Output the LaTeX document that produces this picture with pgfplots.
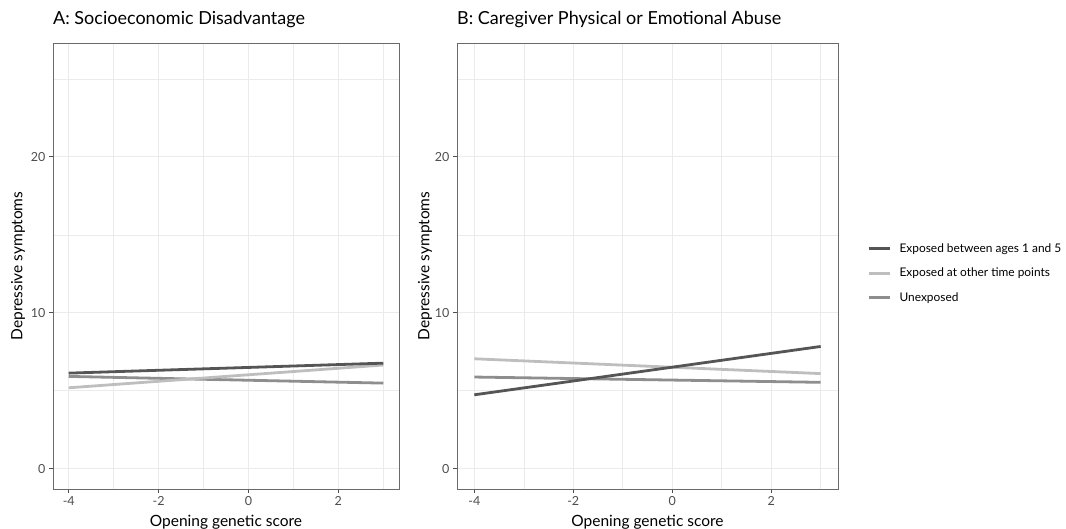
\documentclass[border=0pt]{standalone}
\usepackage{fontspec}
\setmainfont{Lato}
\usepackage{pgfplots}
\pgfplotsset{compat=1.18}
\definecolor{cdark}{HTML}{555555}
\definecolor{clight}{HTML}{BEBEBE}
\definecolor{cmid}{HTML}{8E8E8E}
\definecolor{gridc}{HTML}{EBEBEB}
\definecolor{framec}{HTML}{6A6A6A}
\definecolor{tickc}{HTML}{4D4D4D}
\pgfplotsset{
  myax/.style={
    scale only axis, height=446pt,
    xmin=-4.35, xmax=3.35, ymin=-1.3, ymax=27.3,
    xtick={-4,-2,0,2}, ytick={0,10,20},
    minor xtick={-3,-1,1,3}, minor ytick={5,15,25},
    grid=both,
    major grid style={gridc, line width=1.1pt},
    minor grid style={gridc, line width=0.55pt},
    tick align=outside, tick pos=left,
    major tick length=4pt, minor tick length=0pt,
    axis line style={framec, line width=0.9pt},
    major tick style={tickc, line width=0.9pt},
    ticklabel style={font=\fontsize{12.5}{14}\selectfont, text=tickc},
    /pgf/number format/assume math mode=true,
    xlabel={Opening genetic score}, ylabel={Depressive symptoms},
    label style={font=\fontsize{15.5}{17}\selectfont},
    xlabel style={at={(axis description cs:0.5,0)}, anchor=base, yshift=-37pt},
    title style={at={(axis description cs:0,1)}, anchor=base west, yshift=12pt, inner sep=0pt, font=\fontsize{18}{20}\selectfont},
    every axis plot/.append style={line width=2.8pt},
  }
}
\begin{document}
\begin{tikzpicture}
\useasboundingbox (0,0) rectangle (1066pt,528pt);
\begin{axis}[myax, at={(53pt,39pt)}, anchor=south west, width=346pt,
  title={A: Socioeconomic Disadvantage},
  ylabel style={at={(axis description cs:-0.101,0.5)}, anchor=center}]
\addplot[cmid] coordinates {(-4,5.92) (3,5.49)};
\addplot[clight] coordinates {(-4,5.19) (3,6.65)};
\addplot[cdark] coordinates {(-4,6.13) (3,6.77)};
\end{axis}
\begin{axis}[myax, at={(457pt,39pt)}, anchor=south west, width=381pt,
  title={B: Caregiver Physical or Emotional Abuse},
  ylabel style={at={(axis description cs:-0.084,0.5)}, anchor=center},
  legend style={at={(1,0.484)}, anchor=west, xshift=29pt, draw=none, fill=none,
    inner sep=0pt, row sep=14pt, font=\fontsize{11.9}{13}\selectfont,
    nodes={inner sep=0pt}},
  legend cell align=left,
  legend image code/.code={\draw[#1, line width=2.8pt] (0pt,0pt) -- (21pt,0pt); \path[draw=none] (0pt,0pt) -- (31pt,0pt);},
  reverse legend]
\addplot[cmid] coordinates {(-4,5.88) (3,5.54)};
\addlegendentry{Unexposed}
\addplot[clight] coordinates {(-4,7.05) (3,6.10)};
\addlegendentry{Exposed at other time points}
\addplot[cdark] coordinates {(-4,4.74) (3,7.84)};
\addlegendentry{Exposed between ages 1 and 5}
\end{axis}
\end{tikzpicture}
\end{document}
